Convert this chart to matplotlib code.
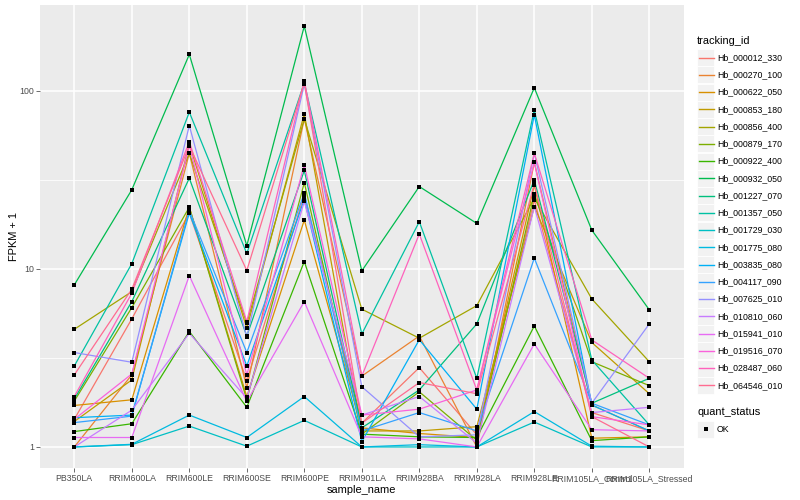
import numpy as np
import matplotlib
matplotlib.use("Agg")
import matplotlib.pyplot as plt
from matplotlib.lines import Line2D
from matplotlib.patches import Rectangle

plt.rcParams['font.family'] = ['Liberation Sans', 'DejaVu Sans']

samples = ['PB350LA', 'RRIM600LA', 'RRIM600LE', 'RRIM600SE', 'RRIM600PE', 'RRIM901LA',
           'RRIM928BA', 'RRIM928LA', 'RRIM928LE', 'RRIM105LA_Control', 'RRIM105LA_Stressed']

genes = ['Hb_000012_330', 'Hb_000270_100', 'Hb_000622_050', 'Hb_000853_180', 'Hb_000856_400',
         'Hb_000879_170', 'Hb_000922_400', 'Hb_000932_050', 'Hb_001227_070', 'Hb_001357_050',
         'Hb_001729_030', 'Hb_001775_080', 'Hb_003835_080', 'Hb_004117_090', 'Hb_007625_010',
         'Hb_010810_060', 'Hb_015941_010', 'Hb_019516_070', 'Hb_028487_060', 'Hb_064546_010']

# ggplot hue palette, 20 levels
colors = ['#F8766D', '#EA8331', '#D89000', '#C09B00', '#A3A500', '#7CAE00', '#39B600', '#00BB4E',
          '#00BF7D', '#00C1A3', '#00BFC4', '#00BAE0', '#00B0F6', '#35A2FF', '#9590FF', '#C77CFF',
          '#E76BF3', '#FA62DB', '#FF62BC', '#FF6C91']

# FPKM + 1, one row per gene
fpkm = [
    [1.43, 5.24, 20.6, 2.35, 26.0, 1.36, 2.79, 1.17, 24.4, 1.56, 1.23],
    [1.00, 2.54, 44.6, 2.15, 69.6, 2.50, 4.20, 1.00, 39.6, 1.72, 1.23],
    [1.71, 1.84, 22.2, 1.92, 18.8, 1.28, 1.19, 1.13, 29.6, 1.12, 1.14],
    [1.39, 2.38, 50.3, 4.64, 74.3, 1.23, 1.23, 1.30, 22.4, 3.86, 1.99],
    [4.58, 7.45, 44.6, 4.95, 69.6, 5.94, 4.08, 6.22, 25.0, 6.78, 3.01],
    [1.81, 6.06, 22.2, 1.84, 30.5, 1.18, 2.04, 1.09, 26.3, 3.01, 2.21],
    [1.22, 1.35, 4.45, 1.67, 11.0, 1.18, 1.14, 1.13, 4.78, 1.085, 1.14],
    [8.13, 27.8, 160., 13.5, 231., 9.75, 29.0, 18.0, 104., 16.5, 5.89],
    [1.86, 6.55, 32.3, 4.20, 35.7, 1.28, 2.09, 4.91, 31.6, 1.76, 2.43],
    [2.85, 10.7, 75.9, 12.2, 111., 4.31, 18.4, 2.43, 78.2, 3.08, 1.33],
    [1.00, 1.03, 1.31, 1.01, 1.41, 1.00, 1.00, 1.00, 1.38, 1.00, 1.00],
    [1.00, 1.035, 1.51, 1.13, 1.92, 1.00, 1.03, 1.00, 1.58, 1.01, 1.00],
    [1.46, 1.51, 20.6, 2.85, 24.6, 1.07, 4.00, 1.63, 73.3, 1.72, 1.23],
    [1.37, 1.49, 21.3, 3.39, 26.6, 1.23, 1.56, 1.23, 11.5, 1.76, 1.33],
    [3.39, 2.99, 63.8, 4.13, 109., 2.18, 1.14, 1.17, 44.6, 1.76, 4.91],
    [1.00, 1.61, 4.35, 1.88, 23.9, 1.51, 1.92, 1.05, 22.4, 1.56, 1.67],
    [1.13, 1.13, 9.17, 1.80, 6.55, 1.14, 1.11, 1.00, 3.79, 1.25, 1.23],
    [1.43, 2.57, 49.2, 2.54, 38.4, 1.51, 1.63, 2.09, 39.6, 1.48, 1.33],
    [1.92, 7.30, 51.9, 5.06, 114., 2.50, 15.7, 2.09, 44.6, 3.99, 2.43],
    [2.54, 7.69, 49.2, 9.79, 111., 1.36, 2.30, 1.99, 30.0, 1.48, 1.00],
]

W, H = 800, 500
fig = plt.figure(figsize=(8, 5), dpi=100)
fig.patch.set_facecolor('white')

# panel in pixel coords
px0, px1, py0, py1 = 39.8, 683.8, 5, 468
ax = fig.add_axes([px0 / W, 1 - py1 / H, (px1 - px0) / W, (py1 - py0) / H])
ax.set_facecolor('#EBEBEB')

x = np.arange(len(samples))
for vals, c in zip(fpkm, colors):
    ax.plot(x, vals, color=c, lw=0.9, zorder=2)
for vals in fpkm:
    ax.plot(x, vals, 's', color='black', ms=2.4, mew=0, zorder=3)

ax.set_yscale('log')
allv = np.log10(np.array(fpkm))
lo, hi = allv.min(), allv.max()
pad = 0.05 * (hi - lo)
ax.set_ylim(10 ** (lo - pad), 10 ** (hi + pad))
ax.set_xlim(-0.6, len(samples) - 0.4)

ax.set_yticks([1, 10, 100])
ax.set_yticklabels(['1', '10', '100'])
ax.set_yticks([10 ** 0.5, 10 ** 1.5], minor=True)
ax.yaxis.set_minor_formatter(matplotlib.ticker.NullFormatter())
ax.set_xticks(x)
ax.set_xticklabels(samples)

ax.grid(True, which='major', color='white', lw=1.1, zorder=0)
ax.grid(True, which='minor', axis='y', color='white', lw=0.55, zorder=0)
ax.set_axisbelow(True)
ax.tick_params(axis='both', which='major', length=2.7, width=0.5, color='#333333',
               labelcolor='#4D4D4D', labelsize=6.3, pad=1.5)
ax.tick_params(axis='y', which='minor', length=0)
for s in ax.spines.values():
    s.set_visible(False)

ax.set_xlabel('sample_name', fontsize=7.9, labelpad=1.5)
ax.set_ylabel('FPKM + 1', fontsize=7.9, labelpad=0.5)

# legend drawn in pixel coords
lg = fig.add_axes([0, 0, 1, 1])
lg.set_xlim(0, W)
lg.set_ylim(H, 0)
lg.axis('off')
lg.patch.set_alpha(0)

lg.text(697, 40.5, 'tracking_id', fontsize=7.9, va='center', ha='left')
k0, step, kw = 57.7, 17.25, 17.0
for i, (g, c) in enumerate(zip(genes, colors)):
    cy = k0 + i * step
    lg.add_patch(Rectangle((697, cy - kw / 2), kw, kw, facecolor='#F2F2F2', edgecolor='white', lw=0.6))
    lg.add_line(Line2D([698.5, 713.5], [cy, cy], color=c, lw=1.0))
    lg.text(717, cy, g, fontsize=6.3, va='center', ha='left')

lg.text(697, 412, 'quant_status', fontsize=7.9, va='center', ha='left')
lg.add_patch(Rectangle((697, 429 - kw / 2), kw, kw, facecolor='#F2F2F2', edgecolor='white', lw=0.6))
lg.plot([705.5], [429], 's', color='black', ms=2.4, mew=0)
lg.text(717, 429, 'OK', fontsize=6.3, va='center', ha='left')

fig.savefig('out.png', dpi=100)
